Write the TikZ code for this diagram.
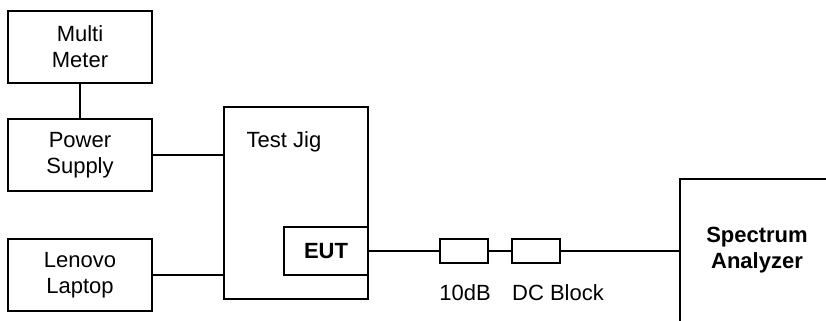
\documentclass[tikz,border=0pt]{standalone}
\usepackage{fontspec}
\setmainfont{Liberation Sans}
\usetikzlibrary{positioning}

\begin{document}
\begin{tikzpicture}[x=0.5pt,y=-0.5pt,line width=0.65pt,
	box/.style={draw,minimum width=72pt,minimum height=36pt,align=center,inner sep=0pt,font=\fontsize{11}{13}\selectfont},
	pad/.style={draw,minimum width=24pt,minimum height=12pt,inner sep=0pt},
	lbl/.style={font=\fontsize{11}{13}\selectfont}]
	\useasboundingbox (0,0) rectangle (826,321);
	\node (meter) [box] at (80,47) {Multi\\Meter};
	\node (supply) [box] at (80,155) {Power\\Supply};
	\node (laptop) [box] at (80,275) {Lenovo\\Laptop};
	\node (jig) [box,minimum height=96pt] at (296,203) {};
	\node at (284,142) [lbl] {Test Jig};
	\node (eut) [box,minimum width=42pt,minimum height=24pt,font=\fontsize{11}{13}\bfseries] at (326,251) {EUT};
	\node (att) [pad] at (464,251) {};
	\node (dcb) [pad] at (536,251) {};
	\node at (465,293) [lbl] {10dB};
	\node at (558,293) [lbl] {DC Block};
	% spectrum analyzer, cut off at the page edge
	\draw (830,179) -- (680,179) -- (680,325);
	\coordinate (sa) at (680,251);
	\node at (757,250) [lbl,align=center,font=\fontsize{11}{13}\bfseries] {Spectrum\\Analyzer};
	\draw (meter) -- (supply);
	\draw (supply.east) -- (supply.east -| jig.west);
	\draw (laptop.east) -- (laptop.east -| jig.west);
	\draw (eut) -- (att) -- (dcb) -- (sa);
\end{tikzpicture}
\end{document}
